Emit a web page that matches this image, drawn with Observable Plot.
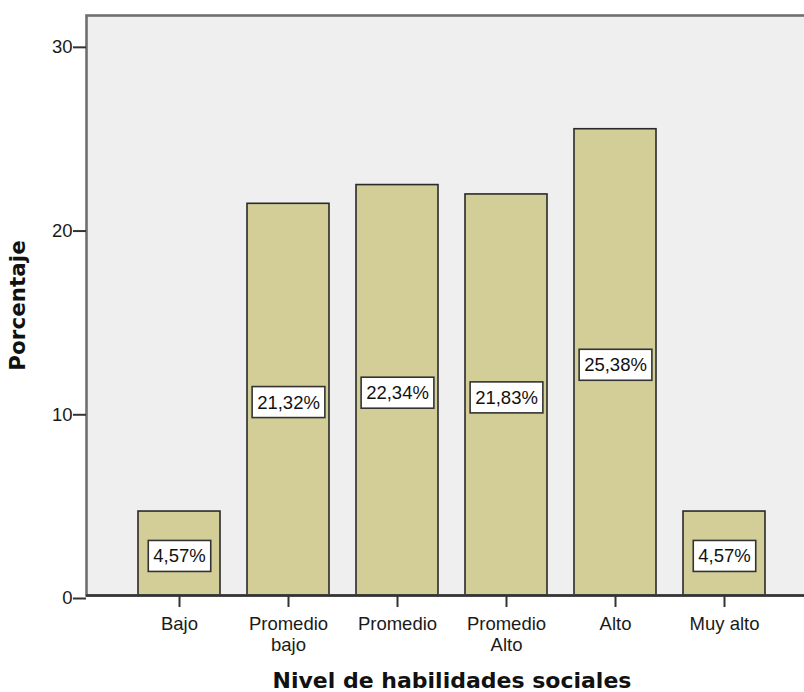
<!DOCTYPE html>
<html><head><meta charset="utf-8">
<script src="https://cdn.jsdelivr.net/npm/d3@7"></script>
<script src="https://cdn.jsdelivr.net/npm/@observablehq/plot@0.6"></script>
<style>
html,body{margin:0;padding:0;background:#fff;overflow:hidden;width:804px;height:692px}
#chart{width:804px;height:692px;overflow:hidden}
#chart svg{display:block;max-width:none}
</style>
</head><body><div id="chart"></div>
<script>
const categories = ["Bajo","Promedio bajo","Promedio","Promedio Alto","Alto","Muy alto"];
const tickLabels = ["Bajo","Promedio\nbajo","Promedio","Promedio\nAlto","Alto","Muy alto"];
const percentages = [4.57,21.32,22.34,21.83,25.38,4.57];
const valueLabels = ["4,57%","21,32%","22,34%","21,83%","25,38%","4,57%"];
const yTicks = [0,10,20,30];
const yDomain = [0, 31.57];
const xTitle = "Nivel de habilidades sociales";
const yTitle = "Porcentaje";

const data = categories.map((c,i)=>({cat:c, value:percentages[i], label:valueLabels[i]}));

const chart = Plot.plot({
  width: 817,
  height: 692,
  marginLeft: 86,
  marginRight: 0,
  marginTop: 15,
  marginBottom: 97,
  style: {fontFamily: "'Liberation Sans', Arial, sans-serif", fontSize: "18.5px", color: "#1a1a1a", background: "#fff", maxWidth: "none", width: "817px", height: "692px"},
  x: {domain: categories, paddingInner: 0.25, paddingOuter: 0.4535},
  y: {domain: yDomain},
  marks: [
    Plot.frame({fill: "#efefef", stroke: "none"}),
    Plot.barY(data, {x: "cat", y: "value", fill: "#d3ce97", stroke: "#2a2a2a", strokeWidth: 1.6}),
    Plot.frame({stroke: "#6f6f6f", strokeWidth: 2.6, fill: "none"}),
    Plot.ruleY([0], {stroke: "#333", strokeWidth: 2.6}),
    Plot.axisY({ticks: yTicks, tickSize: 13, tickPadding: 1, dy: 3, label: null, stroke: "#333", strokeWidth: 2, fontSize: 18.5, fill: "#1a1a1a"}),
    Plot.axisX({tickSize: 12, tickPadding: 7, label: null, stroke: "#333", strokeWidth: 2, fontSize: 18.5, lineHeight: 1.15, fill: "#1a1a1a",
      tickFormat: d => tickLabels[categories.indexOf(d)]}),
    Plot.text(data, {x: "cat", y: d => d.value / 2, text: "label", dy: 3, fontSize: 18.5, fill: "#111"}),
    Plot.text([yTitle], {frameAnchor: "left", textAnchor: "middle", rotate: -90, dx: -62, lineAnchor: "bottom", fontFamily: "'DejaVu Sans', sans-serif", fontWeight: "bold", fontSize: 21.5, fill: "#111"}),
    Plot.text([xTitle], {frameAnchor: "bottom", dy: 92, lineAnchor: "bottom", fontFamily: "'DejaVu Sans', sans-serif", fontWeight: "bold", fontSize: 22, fill: "#111"})
  ]
});
document.getElementById("chart").append(chart);

// white boxes behind value labels
const labelSet = new Set(valueLabels);
const svgNS = "http://www.w3.org/2000/svg";
chart.querySelectorAll("text").forEach(t => {
  if (t.closest('g[aria-label$="axis tick label"]')) return;
  if (!labelSet.has(t.textContent)) return;
  const b = t.getBBox();
  const r = document.createElementNS(svgNS, "rect");
  r.setAttribute("x", b.x - 5);
  r.setAttribute("y", b.y - 5);
  r.setAttribute("width", b.width + 10);
  r.setAttribute("height", b.height + 10);
  r.setAttribute("fill", "#fff");
  r.setAttribute("stroke", "#333");
  r.setAttribute("stroke-width", 1.6);
  const tr = t.getAttribute("transform");
  if (tr) r.setAttribute("transform", tr);
  t.parentNode.insertBefore(r, t);
});
</script>
</body></html>
